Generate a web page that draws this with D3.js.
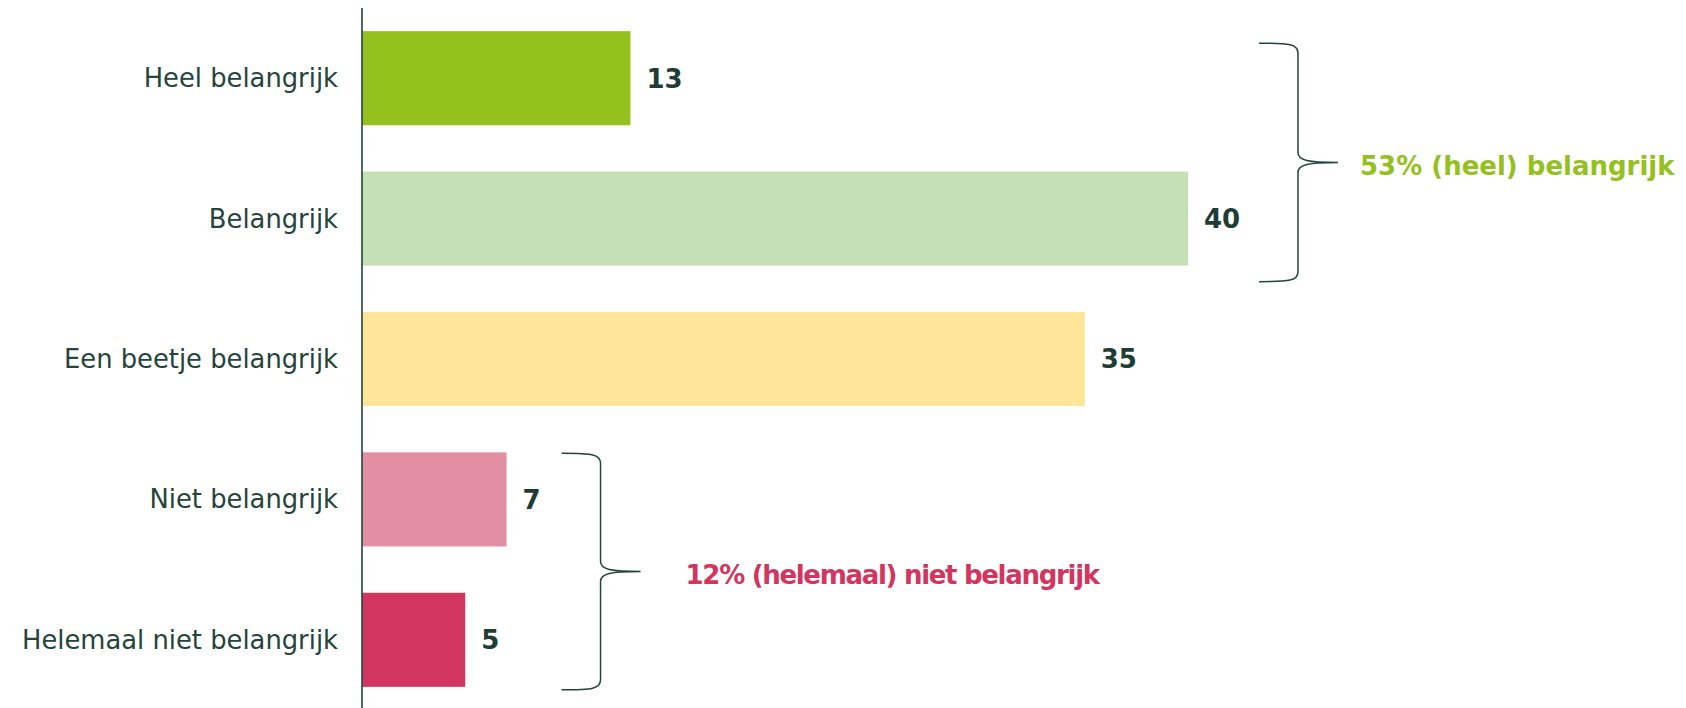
<!DOCTYPE html>
<html>
<head>
<meta charset="utf-8">
<script src="https://cdn.jsdelivr.net/npm/d3@7"></script>
<style>
  body { margin: 0; background: #fff; }
  svg { display: block; font-family: "DejaVu Sans", Lato, sans-serif; }
  .label { fill: #24443c; font-size: 25.8px; }
  .value { fill: #1e3d36; font-size: 26px; font-weight: 700; }
  .note { font-size: 26px; font-weight: 700; }
</style>
</head>
<body>
<svg width="1686" height="708"></svg>
<script>
// answers + percentages
const categories = ["Heel belangrijk", "Belangrijk", "Een beetje belangrijk", "Niet belangrijk", "Helemaal niet belangrijk"];
const values = [13, 40, 35, 7, 5];
const barColors = ["#95c11f", "#c5e0b4", "#fee599", "#e38fa3", "#d23660"];

// grouped totals shown next to the braces
const groups = [
    { from: 0, to: 1, text: "53% (heel) belangrijk", color: "#95c11f" },
    { from: 3, to: 4, text: "12% (helemaal) niet belangrijk", color: "#d2365f" }
];

const width = 1686, height = 708;
const axisX = 362;
const ink = "#24443c";

const svg = d3.select("svg");

const x = d3.scaleLinear().domain([0, 40]).range([axisX, axisX + 40 * 20.65]);
const y = d3.scaleBand()
    .domain(categories)
    .range([8, 710])
    .paddingInner(0.33)
    .paddingOuter(0.165);

const rows = categories.map((c, i) => ({ cat: c, value: values[i], color: barColors[i] }));

// bars
svg.selectAll(".bar")
    .data(rows)
    .enter().append("rect")
    .attr("class", "bar")
    .attr("x", x(0))
    .attr("y", d => y(d.cat))
    .attr("width", d => x(d.value) - x(0))
    .attr("height", y.bandwidth())
    .attr("fill", d => d.color);

// category labels on the left (axis without ticks)
const yAxis = d3.axisLeft(y).tickSize(0).tickPadding(24);
const gAxis = svg.append("g")
    .attr("transform", `translate(${axisX},0)`)
    .call(yAxis)
    .attr("font-family", null)   // let the css font win
    .attr("font-size", null);
gAxis.select(".domain").remove();
gAxis.selectAll("text")
    .attr("class", "label")
    .attr("fill", null)
    .attr("dy", "0.35em");

// vertical axis line
svg.append("line")
    .attr("x1", axisX).attr("x2", axisX)
    .attr("y1", 8).attr("y2", height)
    .attr("stroke", ink)
    .attr("stroke-width", 1.6);

// value labels
svg.selectAll(".value")
    .data(rows)
    .enter().append("text")
    .attr("class", "value")
    .attr("x", d => x(d.value) + 16)
    .attr("y", d => y(d.cat) + y.bandwidth() / 2)
    .attr("dy", "0.36em")
    .text(d => d.value);

// curly brace path: ends at lx, spine at sx, point at tx
function bracePath(lx, sx, tx, top, bottom) {
    const mid = (top + bottom) / 2;
    const r = 10;
    return `M${lx},${top}` +
        ` C${sx - 8},${top} ${sx},${top + 1} ${sx},${top + r}` +
        ` L${sx},${mid - r}` +
        ` C${sx},${mid - 2} ${sx + 10},${mid} ${tx},${mid}` +
        ` C${sx + 10},${mid} ${sx},${mid + 2} ${sx},${mid + r}` +
        ` L${sx},${bottom - r}` +
        ` C${sx},${bottom - 1} ${sx - 8},${bottom} ${lx},${bottom}`;
}

// offsets of each brace relative to its bars (top pad, bottom pad, spine gap)
const braceFit = [
    { top: 12, bottom: 16, gap: 110, textGap: 22, spacing: 0 },
    { top: 1, bottom: 3, gap: 94, textGap: 45, spacing: -1.3 }
];

groups.forEach((g, i) => {
    const f = braceFit[i];
    const top = y(categories[g.from]) + f.top;
    const bottom = y(categories[g.to]) + y.bandwidth() + f.bottom;
    const maxV = d3.max(values.slice(g.from, g.to + 1));
    const sx = x(maxV) + f.gap;
    const lx = sx - 39;
    const tx = sx + 40;
    svg.append("path")
        .attr("d", bracePath(lx, sx, tx, top, bottom))
        .attr("fill", "none")
        .attr("stroke", ink)
        .attr("stroke-width", 1.5);
    svg.append("text")
        .attr("class", "note")
        .attr("x", tx + f.textGap)
        .attr("y", (top + bottom) / 2 + 3)
        .attr("dy", "0.36em")
        .attr("letter-spacing", f.spacing)
        .attr("fill", g.color)
        .text(g.text);
});
</script>
</body>
</html>
